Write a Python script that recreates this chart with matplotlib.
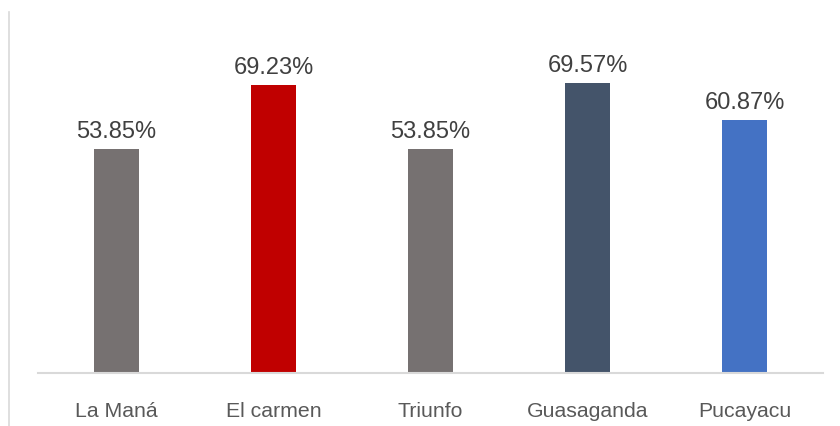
import matplotlib
matplotlib.use("Agg")
import matplotlib.pyplot as plt
from matplotlib.lines import Line2D

categories = ["La Maná", "El carmen", "Triunfo", "Guasaganda", "Pucayacu"]
values = [53.85, 69.23, 53.85, 69.57, 60.87]
labels = ["53.85%", "69.23%", "53.85%", "69.57%", "60.87%"]
colors = ["#767171", "#C00000", "#767171", "#44546A", "#4472C4"]

plt.rcParams['font.family'] = ['Liberation Sans', 'DejaVu Sans']

W, H = 840, 427
fig = plt.figure(figsize=(W / 100, H / 100), dpi=100)
fig.patch.set_facecolor("white")

left, right, bottom, top = 38, 823, 374, 41
ax = fig.add_axes([left / W, (H - bottom) / H, (right - left) / W, (bottom - top) / H])

x = list(range(len(categories)))
bars = ax.bar(x, values, width=0.285, color=colors)
ax.set_xlim(-0.5, len(categories) - 0.5)
ax.set_ylim(0, 80)

ax.bar_label(bars, labels=labels, padding=5, fontsize=17, color="#404040")

ax.set_xticks(x)
ax.set_xticklabels(categories, fontsize=15.3, color="#595959")
ax.tick_params(axis="x", length=0, pad=20)
ax.set_yticks([])
for s in ["left", "right", "top"]:
    ax.spines[s].set_visible(False)
ax.spines["bottom"].set_color("#D9D9D9")
ax.spines["bottom"].set_linewidth(1.5)

fig.add_artist(Line2D([8.5 / W, 8.5 / W], [0, (H - 13) / H], color="#D9D9D9", linewidth=1.2,
                      transform=fig.transFigure))

fig.savefig("out.png", dpi=100)
